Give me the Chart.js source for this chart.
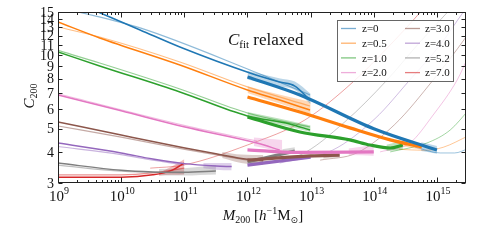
<!DOCTYPE html>
<html>
<head>
<meta charset="utf-8">
<script src="https://cdn.jsdelivr.net/npm/chart.js@4.4.0/dist/chart.umd.min.js"></script>
<style>
  html, body { margin: 0; padding: 0; background: #fff; }
  #wrap { width: 491px; height: 245px; position: relative; }
</style>
</head>
<body>
<div id="wrap"><canvas id="c" width="491" height="245"></canvas></div>
<script>
// legend labels and matplotlib colours, one per redshift
const zLabels = ['z=0', 'z=0.5', 'z=1.0', 'z=2.0', 'z=3.0', 'z=4.0', 'z=5.2', 'z=7.0'];
const zColors = ['#1f77b4', '#ff7f0e', '#2ca02c', '#e377c2', '#8c564b', '#9467bd', '#7f7f7f', '#d62728'];

// axis ticks
const xDecades = [9, 10, 11, 12, 13, 14, 15];
const yTicks = [3, 4, 5, 6, 7, 8, 9, 10, 11, 12, 13, 14, 15];

// every point is [log10 M200, C200]
const modelLines = [
  [[9.58, 15.2], [10.30, 12.67], [10.93, 10.79], [12.04, 8.45], [12.51, 7.76], [12.75, 7.47], [12.99, 6.55]],
  [[9.0, 13.65], [9.66, 11.75], [10.93, 9.11], [12.0, 7.20], [12.51, 6.55], [12.99, 5.96]],
  [[9.0, 10.30], [9.66, 9.03], [10.93, 7.07], [12.0, 5.64], [12.67, 5.23], [12.99, 4.94]],
  [[9.0, 6.87], [10.0, 5.92], [11.01, 5.08], [12.15, 4.37], [12.51, 4.09]],
  [[9.0, 5.33], [10.0, 4.71], [11.01, 4.17], [11.5, 3.95], [12.0, 3.75], [12.25, 3.70]],
  [[9.0, 4.37], [10.0, 3.98], [10.5, 3.76], [11.0, 3.60], [11.5, 3.52], [11.75, 3.50]],
  [[9.0, 3.62], [10.0, 3.38], [10.5, 3.33], [11.0, 3.32], [11.5, 3.36]],
  [[9.0, 3.17], [10.0, 3.17], [10.5, 3.24], [10.8, 3.38], [11.0, 3.62]]
];

const altLines = [
  [[9.2, 15.3], [10.30, 12.91], [12.04, 8.69], [12.99, 6.87]],
  [[9.0, 13.03], [9.66, 11.85], [10.93, 9.37], [12.0, 7.41], [12.99, 6.19]],
  [[9.0, 10.45], [9.66, 9.28], [10.93, 7.27], [12.0, 5.80], [12.99, 5.08]],
  [[9.0, 6.95], [11.01, 5.15], [12.15, 4.45]],
  [[9.0, 5.13], [10.0, 4.62], [11.01, 4.12], [12.0, 3.72]],
  [[9.0, 4.23], [10.0, 3.92], [10.5, 3.72], [11.0, 3.56]],
  [[9.0, 3.55], [10.0, 3.35], [11.0, 3.30]],
  [[9.0, 3.24], [10.0, 3.24], [10.5, 3.30], [11.0, 3.45]]
];

// shaded ranges: [log10 M200, low, high]
const modelBands = [
  [[12.0, 7.95, 8.6], [12.5, 7.45, 8.05], [12.75, 7.2, 7.8], [13.0, 6.3, 6.95]],
  [[12.0, 7.0, 7.45], [12.5, 6.35, 6.9], [13.0, 5.75, 6.45]],
  [[12.0, 5.5, 5.85], [12.5, 5.2, 5.5], [13.0, 4.85, 5.15]],
  [[12.1, 4.25, 4.6], [12.3, 4.15, 4.55], [12.55, 4.0, 4.5]],
  [[11.6, 3.8, 4.02], [11.9, 3.62, 3.92], [12.25, 3.55, 3.9]],
  [[11.3, 3.45, 3.62], [11.5, 3.4, 3.62], [11.75, 3.38, 3.62]],
  [[10.6, 3.22, 3.42], [11.0, 3.22, 3.45], [11.5, 3.25, 3.55]],
  [[10.6, 3.22, 3.3], [10.8, 3.24, 3.5], [11.0, 3.25, 3.75]]
];

const fitBands = [
  [[14.75, 4.05, 4.4], [15.0, 3.95, 4.25]],
  [[14.45, 4.25, 4.55], [14.76, 4.1, 4.3]],
  [[14.2, 4.05, 4.3], [14.46, 4.1, 4.45]],
  [[13.6, 3.9, 4.15], [14.0, 3.88, 4.3]],
  [[13.2, 3.78, 3.95], [13.46, 3.82, 4.0]],
  [],
  [[12.55, 3.92, 4.12], [12.75, 3.95, 4.2]],
  []
];

// thick fitted relations
const fitLines = [
  [[12.0, 8.14], [12.83, 6.87], [14.0, 5.0], [15.0, 4.09]],
  [[12.0, 6.74], [12.83, 5.85], [13.62, 5.04], [14.26, 4.50], [14.76, 4.21]],
  [[12.0, 5.58], [12.83, 4.85], [13.62, 4.50], [13.94, 4.29], [14.26, 4.17], [14.46, 4.29]],
  [[12.0, 4.10], [12.8, 4.0], [14.0, 4.02]],
  [[12.0, 3.72], [13.0, 3.87], [13.46, 3.90]],
  [[12.0, 3.55], [13.0, 3.83]],
  [[12.0, 3.66], [12.75, 4.05]],
  []
];

// faint curves rising toward high mass
const turnLines = [
  [[14.65, 4.21], [15.05, 3.98], [15.28, 3.98], [15.5, 4.15]],
  [[14.4, 4.12], [14.8, 4.08], [15.1, 4.2], [15.5, 4.68]],
  [[14.26, 4.02], [14.84, 4.37], [15.21, 4.94], [15.5, 5.95]],
  [[14.1, 4.02], [14.57, 4.37], [14.94, 5.69], [15.32, 7.91], [15.5, 9.9]],
  [[13.15, 3.72], [13.73, 3.98], [14.33, 5.2], [14.94, 7.91], [15.46, 11.86], [15.5, 12.3]],
  [[12.51, 3.62], [13.35, 4.09], [14.02, 5.5], [14.57, 7.91], [15.05, 11.0], [15.41, 14.9], [15.5, 16]],
  [[12.04, 3.62], [12.83, 3.90], [13.54, 5.33], [14.21, 7.91], [14.73, 11.3], [15.16, 14.9], [15.3, 16.3]],
  [[10.46, 3.45], [10.98, 3.55], [12.0, 4.29], [12.91, 5.43], [13.67, 7.76], [14.26, 11.0], [14.73, 14.9], [14.85, 16.2]]
];

const xMin = 1e9, xMax = Math.pow(10, 15.46);
const yMin = 3, yMax = 15;
const SERIF = '"Liberation Serif", "DejaVu Serif", serif';

function rgba(hex, a) {
  const n = parseInt(hex.slice(1), 16);
  return `rgba(${n >> 16},${(n >> 8) & 255},${n & 255},${a})`;
}
const pts = arr => arr.map(p => ({ x: Math.pow(10, p[0]), y: p[1] }));

const datasets = [];
function addLine(arr, color, width, order) {
  if (!arr.length) return;
  datasets.push({ data: pts(arr), borderColor: color, borderWidth: width, order: order, fill: false });
}
function addBand(arr, color, order) {
  if (!arr.length) return;
  datasets.push({ data: arr.map(p => ({ x: Math.pow(10, p[0]), y: p[1] })), borderWidth: 0, borderColor: 'transparent', order: order, fill: false });
  datasets.push({ data: arr.map(p => ({ x: Math.pow(10, p[0]), y: p[2] })), borderWidth: 0, borderColor: 'transparent', order: order, fill: '-1', backgroundColor: color });
}

zColors.forEach((col, i) => {
  addLine(turnLines[i], rgba(col, 0.55), 0.8, 5);
  addBand(modelBands[i], rgba(col, 0.3), 4);
  addBand(fitBands[i], rgba(col, 0.3), 4);
  addLine(altLines[i], rgba(col, 0.5), 1.2, 3);
  addLine(modelLines[i], col, 1.5, 2);
  addLine(fitLines[i], col, 3.2, 1);
});

function richWidth(ctx, segs) {
  let w = 0;
  segs.forEach(s => { ctx.font = s.font; w += ctx.measureText(s.t).width; });
  return w;
}
function drawRich(ctx, x, y, segs) {
  segs.forEach(s => {
    ctx.font = s.font;
    ctx.fillText(s.t, x, y + (s.dy || 0));
    x += ctx.measureText(s.t).width;
  });
}

const decor = {
  id: 'decor',
  afterDraw(chart) {
    const ctx = chart.ctx, a = chart.chartArea;
    const xs = chart.scales.x, ys = chart.scales.y;
    ctx.save();

    // legend
    ctx.fillStyle = 'rgba(255,255,255,0.85)';
    ctx.fillRect(337.5, 20.5, 116, 61);
    ctx.strokeStyle = '#666';
    ctx.lineWidth = 1;
    ctx.strokeRect(337.5, 20.5, 116, 61);
    ctx.textBaseline = 'middle';
    ctx.textAlign = 'left';
    ctx.font = '11px ' + SERIF;
    zLabels.forEach((lab, i) => {
      const col = i < 4 ? 0 : 1, row = i % 4;
      const ly = 28.5 + row * 14.7;
      const lx = col ? 405 : 341;
      ctx.strokeStyle = rgba(zColors[i], 0.6);
      ctx.lineWidth = 1.3;
      ctx.beginPath(); ctx.moveTo(lx, ly); ctx.lineTo(lx + 15, ly); ctx.stroke();
      ctx.fillStyle = '#111';
      ctx.fillText(lab, col ? 425 : 362, ly + 1);
    });

    // frame and inward ticks
    ctx.strokeStyle = '#222';
    ctx.lineWidth = 1;
    const L = Math.round(a.left) + 0.5, R = Math.round(a.right) - 0.5;
    const T = Math.round(a.top) + 0.5, B = Math.round(a.bottom) - 0.5;
    ctx.strokeRect(L, T, R - L, B - T);
    const seg = (x1, y1, x2, y2) => { ctx.beginPath(); ctx.moveTo(x1, y1); ctx.lineTo(x2, y2); ctx.stroke(); };

    xDecades.forEach(d => {
      for (let k = 1; k <= 9; k++) {
        const v = k * Math.pow(10, d);
        if (v < xMin || v > xMax) continue;
        const px = Math.round(xs.getPixelForValue(v)) + 0.5;
        const len = k === 1 ? 5 : 2.5;
        seg(px, B, px, B - len);
        seg(px, T, px, T + len);
      }
    });
    yTicks.forEach(v => {
      const py = Math.round(ys.getPixelForValue(v)) + 0.5;
      seg(L, py, L + 4, py);
      seg(R, py, R - 4, py);
    });

    // tick labels
    ctx.fillStyle = '#111';
    ctx.textAlign = 'right';
    ctx.textBaseline = 'middle';
    ctx.font = '14px ' + SERIF;
    yTicks.forEach(v => ctx.fillText(String(v), a.left - 4, ys.getPixelForValue(v) + 1));

    ctx.textAlign = 'left';
    ctx.textBaseline = 'alphabetic';
    xDecades.forEach(d => {
      const segs = [
        { t: '10', font: '15px ' + SERIF },
        { t: String(d), font: '10px ' + SERIF, dy: -7 }
      ];
      const w = richWidth(ctx, segs);
      drawRich(ctx, xs.getPixelForValue(Math.pow(10, d)) - w / 2 + 1, 201, segs);
    });

    // x title
    const xt = [
      { t: 'M', font: 'italic 15px ' + SERIF },
      { t: '200', font: '10px ' + SERIF, dy: 3 },
      { t: ' [', font: '15px ' + SERIF },
      { t: 'h', font: 'italic 15px ' + SERIF },
      { t: '\u22121', font: '10px ' + SERIF, dy: -6 },
      { t: 'M', font: '15px ' + SERIF },
      { t: '\u2299', font: '9px "DejaVu Sans", ' + SERIF, dy: 3 },
      { t: ']', font: '15px ' + SERIF }
    ];
    drawRich(ctx, 263 - richWidth(ctx, xt) / 2, 220, xt);

    // y title
    const yt = [
      { t: 'C', font: 'italic 15px ' + SERIF },
      { t: '200', font: '10px ' + SERIF, dy: 3 }
    ];
    ctx.save();
    ctx.translate(34, 96);
    ctx.rotate(-Math.PI / 2);
    drawRich(ctx, -richWidth(ctx, yt) / 2, 0, yt);
    ctx.restore();

    // panel title
    drawRich(ctx, 228, 45, [
      { t: 'C', font: 'italic 17px ' + SERIF },
      { t: 'fit', font: '11px ' + SERIF, dy: 3 },
      { t: ' relaxed', font: '17px ' + SERIF }
    ]);

    ctx.restore();
  }
};

new Chart(document.getElementById('c'), {
  type: 'line',
  data: { datasets: datasets },
  options: {
    responsive: false,
    animation: false,
    parsing: true,
    layout: { padding: { left: 58, right: 25, top: 12, bottom: 62 } },
    elements: {
      point: { radius: 0, hoverRadius: 0 },
      line: { cubicInterpolationMode: 'monotone', borderCapStyle: 'butt' }
    },
    datasets: { line: { clip: 0 } },
    scales: {
      x: { type: 'logarithmic', min: xMin, max: xMax, display: false },
      y: { type: 'logarithmic', min: yMin, max: yMax, display: false }
    },
    plugins: {
      legend: { display: false },
      tooltip: { enabled: false },
      filler: { propagate: false }
    }
  },
  plugins: [decor]
});
</script>
</body>
</html>
